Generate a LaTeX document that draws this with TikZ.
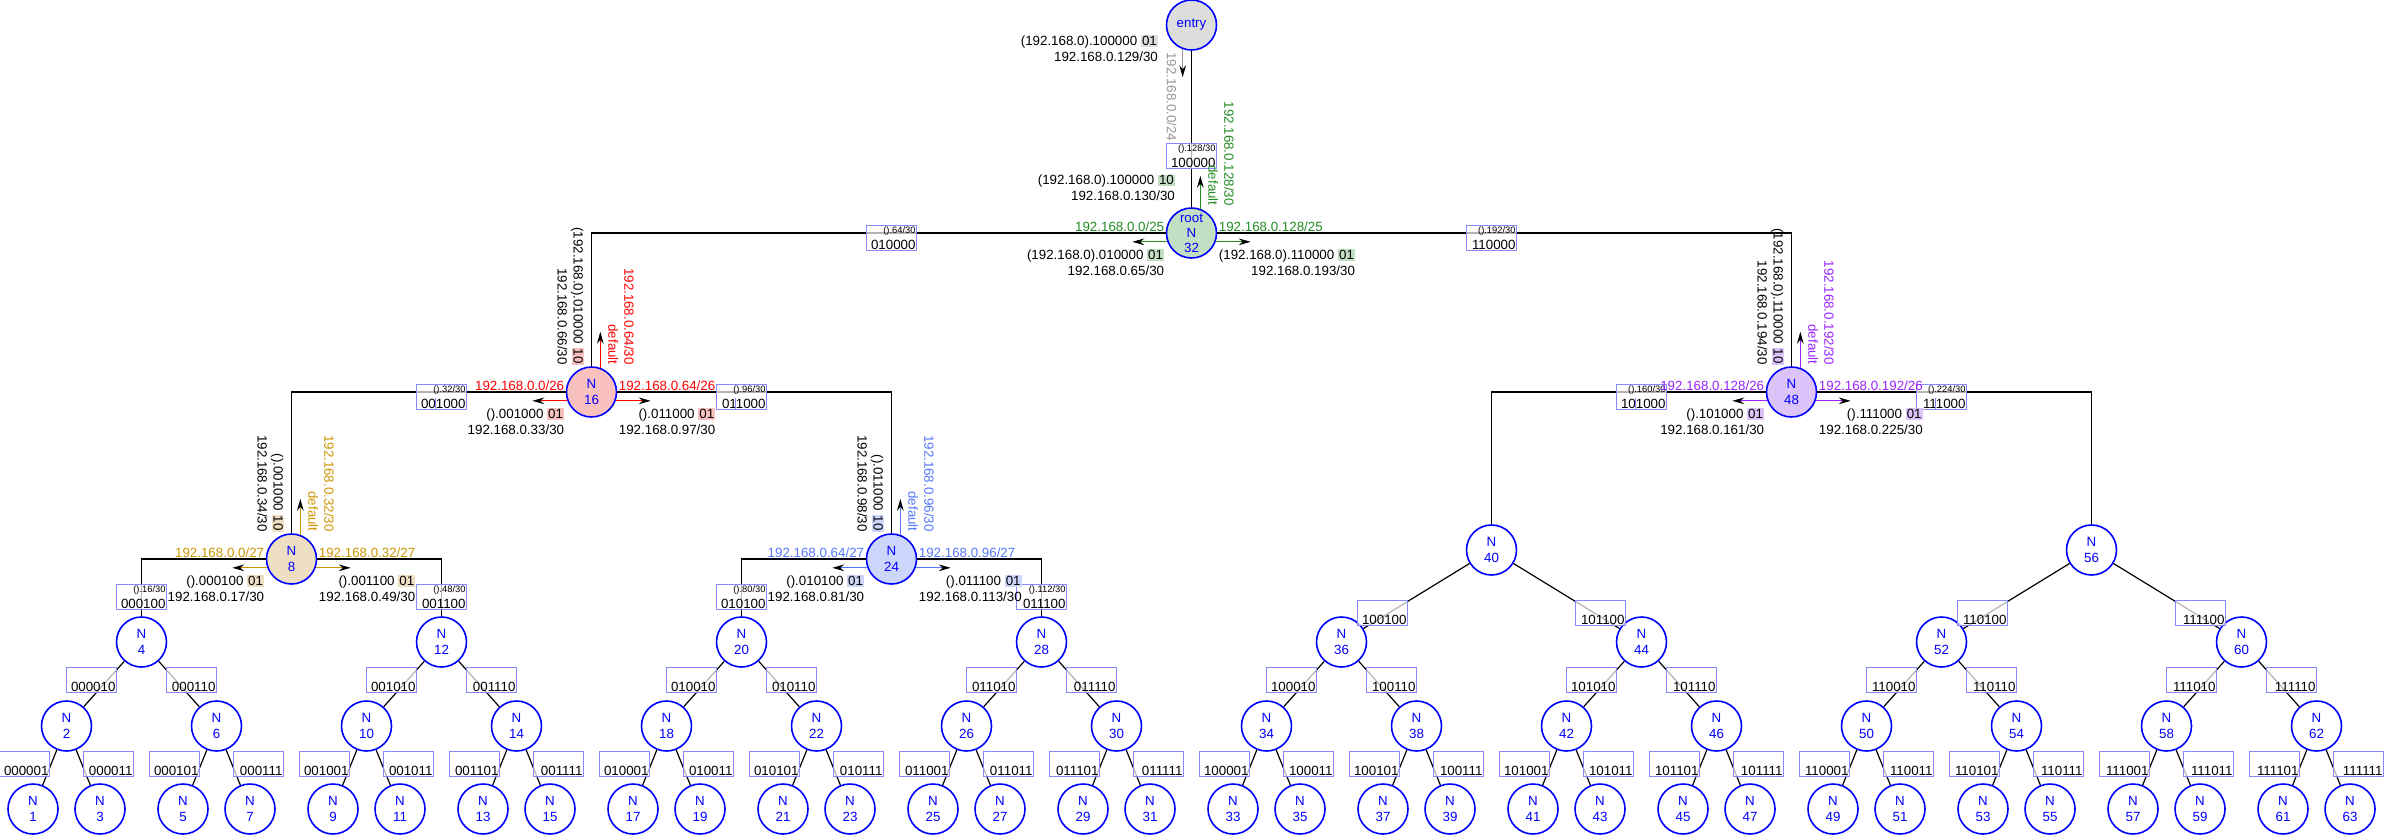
\documentclass[tikz,border=0pt]{standalone}
\usepackage{fontspec}
\setmainfont{Liberation Sans}
\usetikzlibrary{arrows.meta,positioning}

\definecolor{nodeblue}{RGB}{0,0,255}
\definecolor{boxblue}{RGB}{136,136,255}
\definecolor{entryfill}{RGB}{221,221,221}
\definecolor{entrytxt}{RGB}{150,150,150}
\definecolor{rootfill}{RGB}{195,223,195}
\definecolor{roottxt}{RGB}{34,139,34}
\definecolor{redfill}{RGB}{249,192,192}
\definecolor{redtxt}{RGB}{255,0,0}
\definecolor{tanfill}{RGB}{238,223,195}
\definecolor{tantxt}{RGB}{204,150,0}
\definecolor{bluefill}{RGB}{204,213,250}
\definecolor{bluetxt}{RGB}{85,119,255}
\definecolor{purplefill}{RGB}{220,195,250}
\definecolor{purpletxt}{RGB}{153,34,255}

\newcommand\bitbox[2]{{\setlength\fboxsep{0.8pt}\colorbox{#1}{#2}}}
\newcommand\boxtop[1]{{\fontsize{7}{8}\selectfont\rule{0pt}{5.5pt}#1}}

\tikzset{
  netnode/.style={circle, draw=nodeblue, line width=1.2pt, fill=white, text=nodeblue,
    minimum size=37.5pt, inner sep=0pt, align=center, font=\fontsize{10}{12}\selectfont},
  link/.style={line width=1.4pt},
  treeedge/.style={line width=0.9pt},
  addrbox/.style={draw=boxblue, line width=0.5pt, fill=white, fill opacity=0.7, text opacity=1,
    minimum width=37.5pt, minimum height=18pt, text width=36pt, inner sep=0.6pt, align=right},
  divider/.style={draw=boxblue, line width=0.5pt},
  routearrow/.style={line width=1pt, -{Stealth[color=black,length=9pt,width=5pt,inset=3pt]}},
  leftnet/.style={anchor=base east, inner sep=1pt},
  rightnet/.style={anchor=base west, inner sep=1pt},
  leftaddr/.style={anchor=north east, align=right, inner sep=1pt},
  rightaddr/.style={anchor=north west, align=right, inner sep=1pt},
  upaddr/.style={rotate=-90, anchor=north east, align=right, inner sep=1pt},
  upnet/.style={rotate=-90, anchor=south east, align=right, inner sep=1pt}
}

\begin{document}
\begin{tikzpicture}[x=0.75pt, y=-0.75pt, font=\fontsize{10}{12}\selectfont]
    \useasboundingbox (0,0) rectangle (2384,835);

    % Routers
    \node[netnode, fill=entryfill] (entry) at (1191.5,25) {entry};
    \node[netnode, fill=rootfill, font=\fontsize{10}{11.3}\selectfont] (n32) at (1191.5,233) {root\\N\\32};
    \node[netnode, fill=redfill] (n16) at (591.5,392) {N\\16};
    \node[netnode, fill=purplefill] (n48) at (1791.5,392) {N\\48};
    \node[netnode, fill=tanfill] (n8) at (291.5,559) {N\\8};
    \node[netnode, fill=bluefill] (n24) at (891.5,559) {N\\24};
    \node[netnode] (n40) at (1491.5,550) {N\\40};
    \node[netnode] (n56) at (2091.5,550) {N\\56};

    % Plain nodes
    \foreach \j in {0,...,7}{
        \pgfmathtruncatemacro\nn{8*\j+4}
        \node[netnode] (n\nn) at (141.5+300*\j,642) {N\\\nn};
    }
    \foreach \k in {0,...,15}{
        \pgfmathtruncatemacro\np{4*\k+2}
        \pgfmathtruncatemacro\nl{4*\k+1}
        \pgfmathtruncatemacro\nr{4*\k+3}
        \node[netnode] (n\np) at (66.5+150*\k,726) {N\\\np};
        \node[netnode] (n\nl) at (33+150*\k,809) {N\\\nl};
        \node[netnode] (n\nr) at (100+150*\k,809) {N\\\nr};
        \draw[treeedge] (n\np) -- (n\nl);
        \draw[treeedge] (n\np) -- (n\nr);
    }
    \foreach \j in {0,...,7}{
        \pgfmathtruncatemacro\np{8*\j+4}
        \pgfmathtruncatemacro\nl{8*\j+2}
        \pgfmathtruncatemacro\nr{8*\j+6}
        \draw[treeedge] (n\np) -- (n\nl);
        \draw[treeedge] (n\np) -- (n\nr);
    }
    \draw[treeedge] (n40) -- (n36);
    \draw[treeedge] (n40) -- (n44);
    \draw[treeedge] (n56) -- (n52);
    \draw[treeedge] (n56) -- (n60);

    % Router links
    \draw[link] (entry) -- (n32);
    \draw[link] (n32) -| (n16);
    \draw[link] (n32) -| (n48);
    \draw[link] (n16) -| (n8);
    \draw[link] (n16) -| (n24);
    \draw[link] (n48) -| (n40);
    \draw[link] (n48) -| (n56);
    \draw[link] (n8) -| (n4);
    \draw[link] (n8) -| (n12);
    \draw[link] (n24) -| (n20);
    \draw[link] (n24) -| (n28);

    % Address boxes
    \foreach \k/\kb in {0/0000,1/0001,2/0010,3/0011,4/0100,5/0101,6/0110,7/0111,
                        8/1000,9/1001,10/1010,11/1011,12/1100,13/1101,14/1110,15/1111}{
        \node[addrbox] at (66.5+150*\k-42,763.5) {\boxtop{}\\\kb01};
        \node[addrbox] at (66.5+150*\k+42,763.5) {\boxtop{}\\\kb11};
    }
    \foreach \j/\jb in {0/000,1/001,2/010,3/011,4/100,5/101,6/110,7/111}{
        \node[addrbox] at (141.5+300*\j-50,680) {\boxtop{}\\\jb010};
        \node[addrbox] at (141.5+300*\j+50,680) {\boxtop{}\\\jb110};
    }
    \node[addrbox] (b36) at (1382.5,613) {\boxtop{}\\100100};
    \node[addrbox] (b44) at (1600.5,613) {\boxtop{}\\101100};
    \node[addrbox] (b52) at (1982.5,613) {\boxtop{}\\110100};
    \node[addrbox] (b60) at (2200.5,613) {\boxtop{}\\111100};
    \node[addrbox, anchor=north] (b4) at (141.5,584) {\boxtop{().16/30}\\000100};
    \node[addrbox, anchor=north] (b12) at (441.5,584) {\boxtop{().48/30}\\001100};
    \node[addrbox, anchor=north] (b20) at (741.5,584) {\boxtop{().80/30}\\010100};
    \node[addrbox, anchor=north] (b28) at (1041.5,584) {\boxtop{().112/30}\\011100};
    \node[addrbox, anchor=north] (b8) at (441.5,384) {\boxtop{().32/30}\\001000};
    \node[addrbox, anchor=north] (b24) at (741.5,384) {\boxtop{().96/30}\\011000};
    \node[addrbox, anchor=north] (b40) at (1641.5,384) {\boxtop{().160/30}\\101000};
    \node[addrbox, anchor=north] (b56) at (1941.5,384) {\boxtop{().224/30}\\111000};
    \node[addrbox, anchor=north] (b16) at (891.5,225) {\boxtop{().64/30}\\010000};
    \node[addrbox, anchor=north] (b48) at (1491.5,225) {\boxtop{().192/30}\\110000};
    \node[addrbox, anchor=north] (b32) at (1191.5,143) {\boxtop{().128/30}\\100000};
    % prefix dividers
    \foreach \b in {b8,b24,b40,b56}
        \draw[divider] ([xshift=14.6pt]\b.south west) -- ++(0,-12);

    % Entry
    \draw[routearrow, entrytxt] (entry.250) -- ++(0,28);
    \node[rotate=-90, anchor=north west, inner sep=1pt, text=entrytxt] at ([xshift=-10pt]entry.south) {192.168.0.0/24};
    \node[leftaddr] at ([xshift=-24pt,yshift=-6.5pt]entry.center) {(192.168.0).100000 \bitbox{entryfill}{01}\\192.168.0.129/30};

    % Root
    \node[leftnet, text=roottxt] at ([yshift=1pt]n32.west) {192.168.0.0/25};
    \node[rightnet, text=roottxt] at ([yshift=1pt]n32.east) {192.168.0.128/25};
    \draw[routearrow, roottxt] (n32.200) -- ++(-35,0);
    \draw[routearrow, roottxt] (n32.-20) -- ++(35,0);
    \draw[routearrow, roottxt] (n32.70) -- ++(0,-33);
    \node[leftaddr] at ([yshift=-11pt]n32.west) {(192.168.0).010000 \bitbox{rootfill}{01}\\192.168.0.65/30};
    \node[rightaddr] at ([yshift=-11pt]n32.east) {(192.168.0).110000 \bitbox{rootfill}{01}\\192.168.0.193/30};
    \node[anchor=south east, align=right, inner sep=1pt] at ([xshift=-11.25pt,yshift=3.4pt]n32.north) {(192.168.0).100000 \bitbox{rootfill}{10}\\192.168.0.130/30};
    \node[upnet, text=roottxt] at ([xshift=11.4pt]n32.north) {192.168.0.128/30\\default};

    % N16
    \node[leftnet, text=redtxt] at ([yshift=1pt]n16.west) {192.168.0.0/26};
    \node[rightnet, text=redtxt] at ([yshift=1pt]n16.east) {192.168.0.64/26};
    \draw[routearrow, redtxt] (n16.200) -- ++(-35,0);
    \draw[routearrow, redtxt] (n16.-20) -- ++(35,0);
    \draw[routearrow, redtxt] (n16.70) -- ++(0,-36);
    \node[leftaddr] at ([yshift=-11pt]n16.west) {().001000 \bitbox{redfill}{01}\\192.168.0.33/30};
    \node[rightaddr] at ([yshift=-11pt]n16.east) {().011000 \bitbox{redfill}{01}\\192.168.0.97/30};
    \node[upaddr] at ([xshift=-4.5pt]n16.north) {(192.168.0).010000 \bitbox{redfill}{10}\\192.168.0.66/30};
    \node[upnet, text=redtxt] at ([xshift=11.4pt]n16.north) {192.168.0.64/30\\default};

    % N48
    \node[leftnet, text=purpletxt] at ([yshift=1pt]n48.west) {192.168.0.128/26};
    \node[rightnet, text=purpletxt] at ([yshift=1pt]n48.east) {192.168.0.192/26};
    \draw[routearrow, purpletxt] (n48.200) -- ++(-35,0);
    \draw[routearrow, purpletxt] (n48.-20) -- ++(35,0);
    \draw[routearrow, purpletxt] (n48.70) -- ++(0,-36);
    \node[leftaddr] at ([yshift=-11pt]n48.west) {().101000 \bitbox{purplefill}{01}\\192.168.0.161/30};
    \node[rightaddr] at ([yshift=-11pt]n48.east) {().111000 \bitbox{purplefill}{01}\\192.168.0.225/30};
    \node[upaddr] at ([xshift=-4.5pt]n48.north) {(192.168.0).110000 \bitbox{purplefill}{10}\\192.168.0.194/30};
    \node[upnet, text=purpletxt] at ([xshift=11.4pt]n48.north) {192.168.0.192/30\\default};

    % N8
    \node[leftnet, text=tantxt] at ([yshift=1pt]n8.west) {192.168.0.0/27};
    \node[rightnet, text=tantxt] at ([yshift=1pt]n8.east) {192.168.0.32/27};
    \draw[routearrow, tantxt] (n8.200) -- ++(-35,0);
    \draw[routearrow, tantxt] (n8.-20) -- ++(35,0);
    \draw[routearrow, tantxt] (n8.70) -- ++(0,-36);
    \node[leftaddr] at ([yshift=-11pt]n8.west) {().000100 \bitbox{tanfill}{01}\\192.168.0.17/30};
    \node[rightaddr] at ([yshift=-11pt]n8.east) {().001100 \bitbox{tanfill}{01}\\192.168.0.49/30};
    \node[upaddr] at ([xshift=-4.5pt]n8.north) {().001000 \bitbox{tanfill}{10}\\192.168.0.34/30};
    \node[upnet, text=tantxt] at ([xshift=11.4pt]n8.north) {192.168.0.32/30\\default};

    % N24
    \node[leftnet, text=bluetxt] at ([yshift=1pt]n24.west) {192.168.0.64/27};
    \node[rightnet, text=bluetxt] at ([yshift=1pt]n24.east) {192.168.0.96/27};
    \draw[routearrow, bluetxt] (n24.200) -- ++(-35,0);
    \draw[routearrow, bluetxt] (n24.-20) -- ++(35,0);
    \draw[routearrow, bluetxt] (n24.70) -- ++(0,-36);
    \node[leftaddr] at ([yshift=-11pt]n24.west) {().010100 \bitbox{bluefill}{01}\\192.168.0.81/30};
    \node[rightaddr] at ([yshift=-11pt]n24.east) {().011100 \bitbox{bluefill}{01}\\192.168.0.113/30};
    \node[upaddr] at ([xshift=-4.5pt]n24.north) {().011000 \bitbox{bluefill}{10}\\192.168.0.98/30};
    \node[upnet, text=bluetxt] at ([xshift=11.4pt]n24.north) {192.168.0.96/30\\default};
\end{tikzpicture}
\end{document}
